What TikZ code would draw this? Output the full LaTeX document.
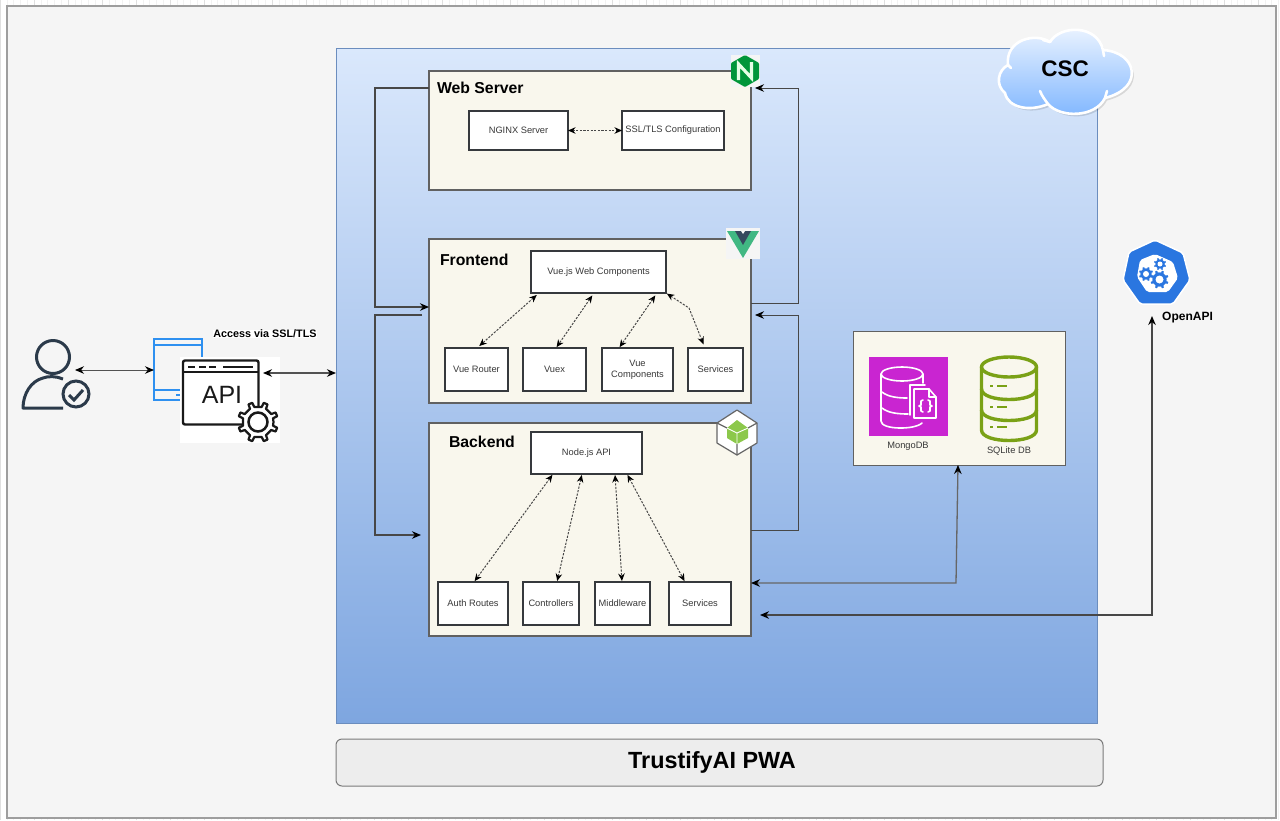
\documentclass[tikz,border=0pt]{standalone}
\usepackage{fontspec}
\setmainfont{Liberation Sans}
\usetikzlibrary{arrows.meta}
\definecolor{panelT}{HTML}{DAE8FC}
\definecolor{panelB}{HTML}{7EA6E0}
\definecolor{cream}{HTML}{F9F7ED}
\definecolor{ink}{HTML}{36393D}
\definecolor{userc}{HTML}{2B3A4A}
\definecolor{k8s}{HTML}{2A76E0}
\definecolor{mongo}{HTML}{C925D1}
\definecolor{sqlc}{HTML}{7AA116}
\definecolor{browserc}{HTML}{2E90F0}
\definecolor{cloudT}{HTML}{EEF5FF}
\definecolor{cloudB}{HTML}{7FB6FF}
\definecolor{nginxc}{HTML}{009639}
\definecolor{vuegreen}{HTML}{41B883}
\definecolor{vuedark}{HTML}{35495E}
\definecolor{nodec}{HTML}{8CC84B}
\tikzset{
  x=1pt,y=-1pt,
  every node/.style={inner sep=0pt,outer sep=0pt,font=\fontsize{9.3}{11}\selectfont,text=black!78},
  tier/.style={draw=black!62,line width=1.3pt,fill=cream,anchor=north west},
  item/.style={draw=ink,line width=1.5pt,fill=white,anchor=north west,align=center},
  heading/.style={font=\bfseries\fontsize{15.8}{17}\selectfont,text=black,anchor=west},
  link/.style={draw=black!72,line width=.9pt,-{Stealth[length=9pt,width=7.5pt,color=black]}},
  both/.style={draw=black!68,line width=1.1pt,{Stealth[length=9pt,width=7.5pt,color=black]}-{Stealth[length=9pt,width=7.5pt,color=black]}},
  dashlink/.style={draw=black!72,line width=1pt,dash pattern=on 2.2pt off 1.4pt,{Stealth[length=7.5pt,width=6.5pt,color=black]}-{Stealth[length=7.5pt,width=6.5pt,color=black]}},
  cloudline/.style={draw=white,line width=2.6pt,line cap=round,line join=round},
}
\newcommand{\cogpath}[7]{%
  % cx, cy, outer, root, teeth, style, hole radius
  \begin{scope}[shift={(#1,#2)}]
    \pgfmathsetmacro{\cogstep}{360/#5}
    \draw[#6] (0:#4)
      \foreach \k [evaluate=\k as \a using \k*\cogstep] in {1,...,#5}{
        -- ({\a-0.69*\cogstep}:#4) -- ({\a-0.63*\cogstep}:#3) -- ({\a-0.37*\cogstep}:#3) -- ({\a-0.31*\cogstep}:#4)
      } -- cycle;
    #7
  \end{scope}}
\begin{document}
\begin{tikzpicture}
\useasboundingbox (0,0) rectangle (1280,820);
% page grid in the margin
\fill[white] (0,0) rectangle (1280,820);
\draw[black!5,line width=.5pt] (0,0) grid[xstep=6.8,ystep=6.8] (1280,820);
\draw[black!12,line width=.7pt] (0,0) grid[xstep=34,ystep=34] (1280,820);
% sheet
\node[draw=black!38,line width=1.6pt,fill=black!4,anchor=north west,minimum width=1269pt,minimum height=812pt] (sheet) at (7,6) {};
% panel
\node[draw=panelB!85!black,line width=.8pt,top color=panelT,bottom color=panelB,anchor=north west,minimum width=761pt,minimum height=675pt] (panel) at (336,48) {};
% title
\node[draw=black!52,line width=1pt,fill=black!7,rounded corners=6pt,anchor=north west,minimum width=767pt,minimum height=47pt,font=\bfseries\fontsize{23.4}{25}\selectfont,text=black] (title) at (336,739) {TrustifyAI PWA\hspace*{15pt}};

% tiers
\node[tier,minimum width=322pt,minimum height=119pt] (web) at (429,71) {};
\node[tier,minimum width=322pt,minimum height=164pt] (front) at (429,239) {};
\node[tier,minimum width=322pt,minimum height=213pt] (back) at (429,423) {};
\node[tier,line width=1pt,minimum width=212pt,minimum height=134pt] (db) at (853,331) {};

\node[heading] (webh) at (437,88) {Web Server};
\node[heading] (fronth) at (440,260) {Frontend};
\node[heading] (backh) at (449,442) {Backend};

% web server items
\node[item,minimum width=99pt,minimum height=39pt] (nginx) at (469,111) {NGINX Server};
\node[item,minimum width=102pt,minimum height=39pt] (ssl) at (622,111) {SSL/TLS Configuration};
% frontend items
\node[item,minimum width=135pt,minimum height=42pt] (vuejs) at (531,251) {Vue.js Web Components};
\node[item,minimum width=63pt,minimum height=43pt] (router) at (445,348) {Vue Router};
\node[item,minimum width=63pt,minimum height=43pt] (vuex) at (523,348) {Vuex};
\node[item,minimum width=71pt,minimum height=43pt] (vuecomp) at (602,348) {Vue\\Components};
\node[item,minimum width=55pt,minimum height=43pt] (fserv) at (688,348) {Services};
% backend items
\node[item,minimum width=111pt,minimum height=42pt] (nodeapi) at (531,432) {Node.js API};
\node[item,minimum width=70pt,minimum height=43pt] (auth) at (438,582) {Auth Routes};
\node[item,minimum width=56pt,minimum height=43pt] (ctrl) at (523,582) {Controllers};
\node[item,minimum width=55pt,minimum height=43pt] (mid) at (595,582) {Middleware};
\node[item,minimum width=62pt,minimum height=43pt] (bserv) at (669,582) {Services};

% dashed links
\draw[dashlink] (nginx.east) -- (ssl.west);
\draw[dashlink,shorten <=3pt,shorten >=3pt] (vuejs.south -| 539,0) -- (router.north -| 477,0);
\draw[dashlink,shorten <=3pt,shorten >=1pt] (vuejs.south -| 594,0) -- (vuex.north -| 556,0);
\draw[dashlink,shorten <=3pt,shorten >=1pt] (vuejs.south -| 657,0) -- (vuecomp.north -| 619,0);
\draw[dashlink,shorten <=1pt,shorten >=4pt] (vuejs.south east) -- (689,308) -- (fserv.north -| 705,0);
\draw[dashlink,shorten <=1pt,shorten >=1pt] (nodeapi.south -| 553,0) -- (auth.north -| 474,0);
\draw[dashlink,shorten <=1pt,shorten >=1pt] (nodeapi.south -| 582,0) -- (ctrl.north -| 557,0);
\draw[dashlink,shorten <=1pt,shorten >=1pt] (nodeapi.south -| 615,0) -- (mid.north -| 622,0);
\draw[dashlink,shorten <=1pt,shorten >=1pt] (nodeapi.south -| 627,0) -- (bserv.north -| 685,0);

% DB contents
\node[anchor=north west,fill=mongo,minimum width=79pt,minimum height=79pt] (mongoicon) at (869,357) {};
\begin{scope}[line width=1.6pt,line join=round,line cap=round]
  \draw[white] (902,374) ellipse [x radius=21,y radius=7];
  \draw[white] (881,374) -- (881,421) .. controls (881,430) and (915,430) .. (922,423);
  \draw[white] (923,374) -- (923,383);
  \draw[white] (882,392) .. controls (888,397) and (898,398) .. (907,398);
  \draw[white] (882,408) .. controls (888,413) and (898,414) .. (908,414);
  \draw[white] (914,389) -- (929,389) -- (936,397) -- (936,418) -- (914,418) -- cycle;
  \draw[white] (929,389) -- (929,397) -- (936,397);
  \draw[white] (910,415) -- (910,385) -- (925,385);
  \draw[white] (923,400) -- (921,401) -- (921,405) -- (919,406) -- (921,407) -- (921,411) -- (923,412);
  \draw[white] (928,400) -- (930,401) -- (930,405) -- (932,406) -- (930,407) -- (930,411) -- (928,412);
\end{scope}
\node (mongolabel) at (908,446) {MongoDB};
\begin{scope}[line width=3.4pt,line join=round,line cap=round]
  \draw[sqlc] (1009,367) ellipse [x radius=27.5,y radius=10];
  \draw[sqlc] (981.5,367) -- (981.5,430) .. controls (981.5,444) and (1036.5,444) .. (1036.5,430) -- (1036.5,367);
  \draw[sqlc] (981.5,389) .. controls (981.5,403) and (1036.5,403) .. (1036.5,389);
  \draw[sqlc] (981.5,410) .. controls (981.5,424) and (1036.5,424) .. (1036.5,410);
  \foreach \yy in {386,407,427}{
    \draw[sqlc,line width=2.8pt,line cap=butt] (990,\yy) -- (993,\yy) (997,\yy) -- (1007,\yy);
  }
\end{scope}
\node (sqllabel) at (1009,451) {SQLite DB};

% user
\node[draw=userc,line width=3pt,circle,minimum size=33pt] (userhead) at (53,357) {};
\draw[userc,line width=3pt,line join=round] (63,379) .. controls (56,376) and (48,376) .. (43,378) .. controls (31,381) and (23,394) .. (23,408) -- (63,408);
\node[draw=userc,line width=3pt,circle,minimum size=26pt] (userbadge) at (76,394) {};
\draw[userc,line width=3pt] (69,395) -- (74,400) -- (83,390);
\coordinate (userport) at (75,370);

% browser
\node[draw=browserc,line width=1.5pt,anchor=north west,minimum width=48pt,minimum height=61pt] (browser) at (154,339) {};
\draw[browserc,line width=1.5pt] (browser.north west |- 0,345) -- (browser.north east |- 0,345);
\draw[browserc,line width=1.5pt] (browser.north west |- 0,390) -- (browser.north east |- 0,390);
\draw[browserc,line width=1.2pt] (176,395) -- (181,395);

% API icon
\node[fill=white,anchor=north west,minimum width=100pt,minimum height=86pt] (apibg) at (180,357) {};
\draw[black!90,line width=2.4pt,rounded corners=2pt] (183,360.5) rectangle (258.5,424.5);
\draw[black!90,line width=2.2pt] (183,372) -- (258.5,372);
\draw[black!90,line width=2.2pt] (188,367) -- (195,367) (199,367) -- (206,367) (209,367) -- (216,367) (223,367) -- (253,367);
\node[font=\fontsize{25}{27}\selectfont,text=black!90] (apitext) at (222,395) {API};
\cogpath{258}{422}{20}{15.5}{8}{draw=black!90,fill=white,line width=2.2pt,line join=round}{\draw[black!90,line width=2.5pt] (0,0) circle (9.5);}
\coordinate (apiport) at (263,373);

\node[font=\bfseries\fontsize{10.8}{12}\selectfont,text=black,fill=white] (accesslabel) at (265,334) {Access via SSL/TLS};

% cloud
\def\cloudshape{(1008,65) .. controls (1005,40) and (1035,32) .. (1050,42) .. controls (1060,25) and (1097,24) .. (1103,50) .. controls (1137,52) and (1145,88) .. (1105,98) .. controls (1095,118) and (1060,118) .. (1048,104) .. controls (1030,112) and (1008,108) .. (1005,93) .. controls (995,85) and (998,70) .. (1008,65) -- cycle}
\fill[black,opacity=.12,shift={(2,2.5)}] \cloudshape;
\path[cloudline,top color=cloudT,bottom color=cloudB] \cloudshape;
\draw[cloudline] (1103,50) -- (1104,56);
\draw[cloudline] (1105,98) -- (1107,91);
\draw[cloudline] (1048,104) .. controls (1045,100) and (1042,96) .. (1040,91);
\draw[cloudline] (1050,42) -- (1043,40);
\draw[cloudline] (1008,65) -- (1011,68);
\node[font=\bfseries\fontsize{22.5}{24}\selectfont,text=black] (csc) at (1065,69) {CSC};

% nginx icon
\node[fill=black!4,anchor=north west,minimum width=29pt,minimum height=32pt] (nginxbg) at (731,55) {};
\fill[nginxc,rounded corners=1pt] (745,55) -- (759,63) -- (759,79) -- (745,87) -- (731,79) -- (731,63) -- cycle;
\draw[white!90!green,line width=3.2pt,line join=miter,line cap=butt] (738.5,80) -- (738.5,64) -- (751.5,78) -- (751.5,62);

% vue icon
\node[fill=black!4,anchor=north west,minimum width=34pt,minimum height=31pt] (vuebg) at (726,228) {};
\fill[vuegreen] (727,231) -- (759,231) -- (743,258) -- cycle;
\fill[vuedark] (735,231) -- (751,231) -- (743,245) -- cycle;
\fill[black!4] (741,231) -- (745,231) -- (743,234) -- cycle;

% node icon
\fill[white] (737,410) -- (757,423) -- (757,443) -- (737,455) -- (717,443) -- (717,423) -- cycle;
\draw[black!60,line width=1.2pt,line join=round] (737,410) -- (757,423) -- (757,443) -- (737,455) -- (717,443) -- (717,423) -- cycle;
\draw[black!60,line width=1.2pt] (737,444) -- (737,455) (717,423) -- (727,428) (757,423) -- (748,428);
\fill[nodec] (737,420) -- (748,428) -- (748,438) -- (737,444) -- (727,438) -- (727,428) -- cycle;
\draw[white,line width=.9pt] (727,428) -- (737,433) -- (748,428) (737,433) -- (737,444);

% openapi icon
\path[draw=white,line width=1.5pt,fill=k8s,line join=round,rounded corners=2pt] (1155,240) -- (1183,253) -- (1190,280) -- (1173,304) -- (1140,304) -- (1123,280) -- (1129,252) -- cycle;
\fill[white,rounded corners=2pt] (1155,254) -- (1173,262) -- (1178,278) -- (1168,292) -- (1147,292) -- (1137,277) -- (1140,260) -- cycle;
\cogpath{1146}{274}{7}{5.5}{8}{fill=k8s,draw=k8s,line width=.2pt}{\fill[white] (0,0) circle (3);}
\cogpath{1160}{264}{6}{4.6}{8}{fill=k8s,draw=k8s,line width=.2pt}{\fill[white] (0,0) circle (2.5);}
\cogpath{1159.5}{279.5}{9}{7}{8}{fill=k8s,draw=k8s,line width=.2pt}{\fill[white] (0,0) circle (4);}
\node[font=\bfseries\fontsize{12}{13}\selectfont,text=black] (openapi) at (1187.5,318) {OpenAPI};
\coordinate (openapiport) at (1152,316);

% solid connectors
\coordinate (frontout) at (422,315);
\draw[link,line width=1.2pt] (web.west |- 0,88) -- (375,88) -- (375,307) -- (front.west |- 0,307);
\draw[link,line width=1.2pt,shorten >=8pt] (frontout) -- (375,315) -- (375,535) -- (back.west |- 0,535);
\draw[link,shorten >=4pt] (front.east |- 0,303) -- (798,303) -- (798,88) -- (web.east |- 0,88);
\draw[link,shorten >=4pt] (back.east |- 0,530) -- (798,530) -- (798,315) -- (front.east |- 0,315);
\draw[both,line width=1.3pt,draw=black!60] (back.east |- 0,583) -- (956,583) -- (db.south -| 958,0);
\draw[both,line width=1.6pt,draw=black!72,shorten <=9pt] (back.east |- 0,615) -- (1152,615) -- (openapiport);
\draw[both,line width=.9pt] (userport) -- (browser.west |- 0,370);
\draw[both,line width=1.4pt] (apiport) -- (panel.west |- 0,373);
\end{tikzpicture}
\end{document}
